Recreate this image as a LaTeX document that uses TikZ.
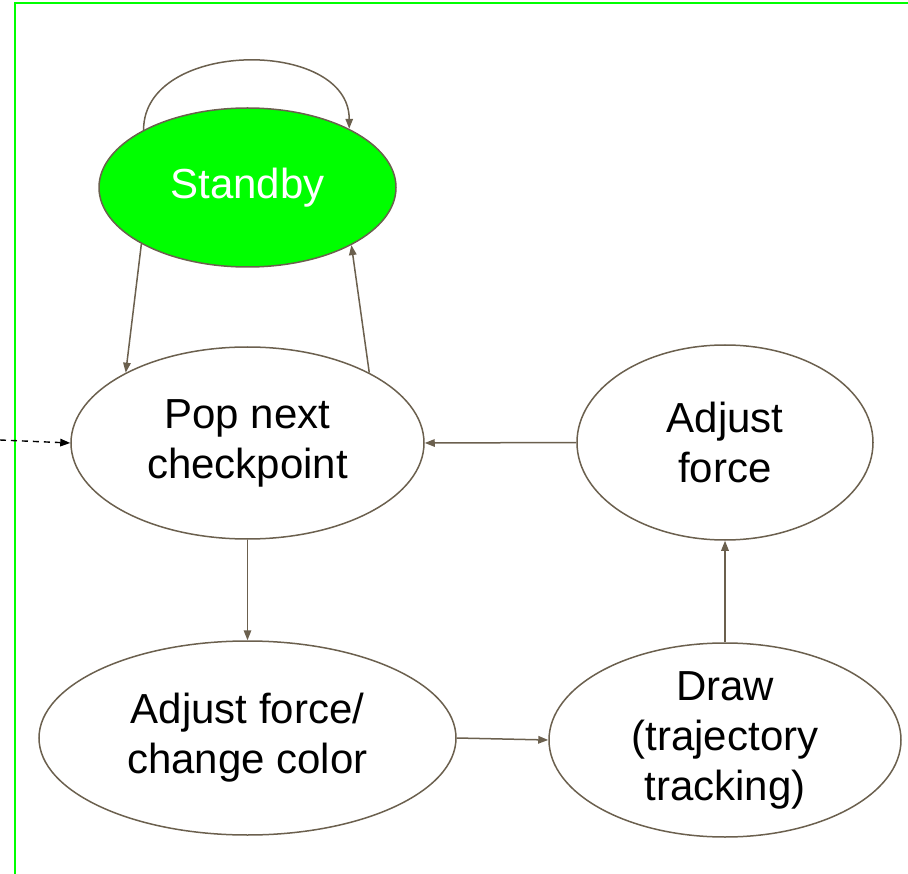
\documentclass[tikz,border=0pt]{standalone}
\usepackage{fontspec}
\setmainfont{Liberation Sans}
\usetikzlibrary{shapes.geometric,arrows.meta}
\definecolor{edgec}{RGB}{107,96,78}
\definecolor{brightgreen}{RGB}{0,255,0}
\begin{document}
\begin{tikzpicture}[x=1pt,y=-1pt,
  state/.style={ellipse, draw=edgec, line width=1.5pt, inner sep=-10pt, align=center,
    font=\fontsize{42}{50}\selectfont},
  conn/.style={draw=edgec, line width=1.5pt, -{Triangle[length=10pt,width=7.5pt]}},
  frame/.style={draw=brightgreen, line width=2.5pt},
  entry/.style={draw=black, line width=1.4pt, dash pattern=on 6pt off 5pt,
    -{Triangle[length=10pt,width=7.5pt]}}]
\useasboundingbox (0,0) rectangle (908,874);
% frame lines
\coordinate (ftr) at (908,3);
\coordinate (ftl) at (15,3);
\coordinate (fbl) at (15,874);
\draw[frame] (ftr) -- (ftl) -- (fbl);
% states
\node[state, fill=brightgreen, text=white, minimum width=297pt, minimum height=159pt] (standby) at (247.5,187.5) {Standby};
\node[state, minimum width=353pt, minimum height=192pt] (pop) at (247.5,443) {Pop next\\checkpoint};
\node[state, minimum width=296pt, minimum height=195pt] (adj) at (725,442.5) {Adjust\\force};
\node[state, minimum width=417pt, minimum height=194pt] (afc) at (247.5,738) {Adjust force/\\change color};
\node[state, minimum width=352pt, minimum height=194pt] (drw) at (725,740) {Draw\\(trajectory\\tracking)};
% connectors
\draw[conn] (standby.151) .. controls +(0,-91) and +(0,-91) .. (standby.30);
\draw[conn] (standby.208) -- (pop.150);
\draw[conn] (pop.30) -- (standby.331);
\draw[conn] (adj.west) -- (pop.east);
\draw[conn] (pop.south) -- (afc.north);
\draw[conn] (afc.east) -- (drw.west);
\draw[conn] (drw.north) -- (adj.south);
\coordinate (src) at (0,440);
\draw[entry] (src) -- (pop.west);
\end{tikzpicture}
\end{document}
